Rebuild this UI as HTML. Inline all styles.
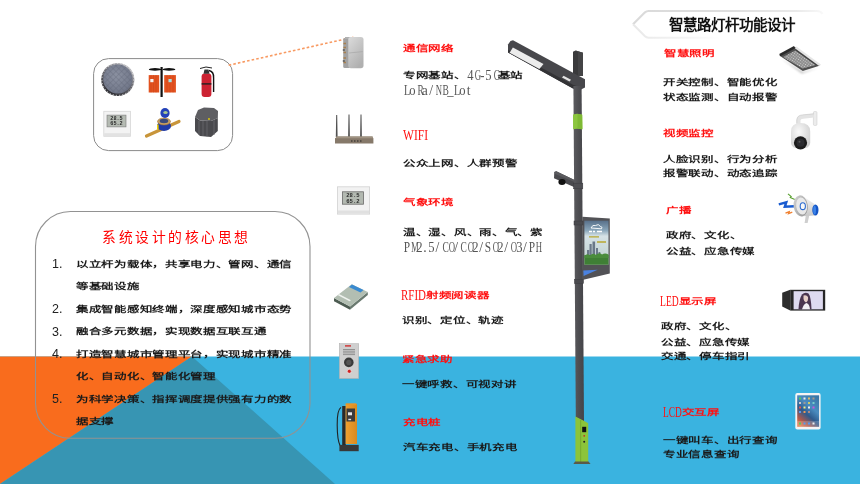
<!DOCTYPE html>
<html lang="zh-CN"><head><meta charset="utf-8"><style>
html,body{margin:0;padding:0;background:#fff;}
body{width:860px;height:484px;position:relative;overflow:hidden;font-family:"Liberation Sans",sans-serif;}
svg.bg{position:absolute;left:0;top:0;will-change:transform;}
.t{will-change:transform;position:absolute;white-space:nowrap;font-size:12.5px;line-height:12.5px;height:12.5px;}
.c{display:inline-block;font-weight:bold;letter-spacing:-0.3px;transform-origin:0 10px;transform:scaleY(0.68);}
.m{display:inline-block;font-family:"Liberation Serif",serif;position:relative;top:1.5px}
.m i{display:inline-block;width:6.25px;text-align:center;font-style:normal;font-size:13.6px;}
.m b{display:inline-block;font-weight:normal;transform-origin:50% 0;}
.n{will-change:transform;position:absolute;font-size:12.5px;line-height:1;color:#222;}
.title{will-change:transform;position:absolute;left:668.5px;top:17.5px;font-size:14.5px;font-weight:bold;line-height:1;color:#111;white-space:nowrap}
.ct{will-change:transform;position:absolute;left:101.5px;top:231.4px;font-size:13.8px;letter-spacing:2.5px;line-height:1;color:#f00;font-weight:normal;white-space:nowrap;font-family:"Liberation Serif",serif;}
</style></head><body>
<svg class="bg" width="860" height="484" viewBox="0 0 860 484">
<defs>
<linearGradient id="bann" gradientUnits="userSpaceOnUse" x1="632" y1="0" x2="826" y2="0">
<stop offset="0" stop-color="#dadada"/><stop offset="0.5" stop-color="#dedede"/><stop offset="0.85" stop-color="#eaeaea"/><stop offset="1" stop-color="#fafafa"/></linearGradient>
<linearGradient id="bannb" gradientUnits="userSpaceOnUse" x1="632" y1="0" x2="720" y2="0">
<stop offset="0" stop-color="#e8e8e8"/><stop offset="0.5" stop-color="#f2f2f2"/><stop offset="1" stop-color="#fff"/></linearGradient>
<radialGradient id="mh" cx="0.45" cy="0.4" r="0.6"><stop offset="0" stop-color="#8c92a2"/><stop offset="1" stop-color="#707688"/></radialGradient>
<linearGradient id="mhr" x1="0.8" y1="0" x2="0.2" y2="1"><stop offset="0" stop-color="#c8c8cc"/><stop offset="0.45" stop-color="#6a6a72"/><stop offset="1" stop-color="#25252a"/></linearGradient>
<pattern id="mhp" width="4" height="4" patternUnits="userSpaceOnUse" patternTransform="rotate(45)"><rect width="4" height="4" fill="none"/><path d="M0 0H4M0 0V4" stroke="#5a6070" stroke-width="0.8"/></pattern>
<linearGradient id="comm" x1="0" y1="0" x2="0.6" y2="1"><stop offset="0" stop-color="#dcdcdc"/><stop offset="1" stop-color="#b0b0b0"/></linearGradient>
<linearGradient id="pole" x1="0" y1="0" x2="1" y2="0"><stop offset="0" stop-color="#5b5b5f"/><stop offset="0.45" stop-color="#4f4f53"/><stop offset="1" stop-color="#444448"/></linearGradient>
<linearGradient id="scr" x1="0" y1="0" x2="0" y2="1"><stop offset="0" stop-color="#58708a"/><stop offset="0.22" stop-color="#8aa6ba"/><stop offset="0.35" stop-color="#d6e2e6"/><stop offset="0.7" stop-color="#c8d8d8"/><stop offset="1" stop-color="#c0d0c8"/></linearGradient>
<linearGradient id="ipad" x1="0.8" y1="0" x2="0.2" y2="1"><stop offset="0" stop-color="#3a78a8"/><stop offset="0.35" stop-color="#4a8cc0"/><stop offset="0.6" stop-color="#2e5a8c"/><stop offset="0.85" stop-color="#b0584a"/><stop offset="1" stop-color="#e07a4a"/></linearGradient>
<radialGradient id="cam" cx="0.4" cy="0.35" r="0.7"><stop offset="0" stop-color="#fafafa"/><stop offset="1" stop-color="#cfcfcf"/></radialGradient>
<linearGradient id="pile" x1="0" y1="0" x2="1" y2="0"><stop offset="0" stop-color="#f0a030"/><stop offset="1" stop-color="#d88a20"/></linearGradient>
<linearGradient id="ledl" x1="0" y1="0" x2="1" y2="1"><stop offset="0" stop-color="#bdbdbd"/><stop offset="1" stop-color="#8a8a8a"/></linearGradient>
<filter id="blur1" x="-20%" y="-50%" width="140%" height="200%"><feGaussianBlur stdDeviation="1.2"/></filter>
<pattern id="dots" width="2.2" height="2.2" patternUnits="userSpaceOnUse" patternTransform="rotate(36)"><circle cx="1.1" cy="1.1" r="0.55" fill="#d8d8d8"/></pattern>
<linearGradient id="megh" x1="0" y1="0" x2="1" y2="1"><stop offset="0" stop-color="#d8d8d8"/><stop offset="1" stop-color="#8e8e8e"/></linearGradient>
<linearGradient id="megb" x1="0" y1="0" x2="0" y2="1"><stop offset="0" stop-color="#f4f4f4"/><stop offset="1" stop-color="#c8c8c8"/></linearGradient>
</defs>
<!-- bottom band -->
<rect x="0" y="356.5" width="860" height="128" fill="#3AB3E0"/>
<polygon points="0,356.5 192,356.5 0,484" fill="#F96C1D"/>
<polygon points="192,356.5 0,484 335,484" fill="#3795B3"/>
<!-- title banner -->
<path d="M633,24.3 L645,12.3 Q646.5,11 648.5,11 L817,11 Q821,11 822.5,14" fill="none" stroke="url(#bann)" stroke-width="2.2" stroke-linejoin="round"/>
<path d="M633,24.3 L645,36.3 Q646.5,37.7 648.5,37.7 L720,37.7" fill="none" stroke="url(#bannb)" stroke-width="2" stroke-linejoin="round"/>
<!-- core ideas box -->
<rect x="35.5" y="211.5" width="274.5" height="226.8" rx="35" ry="35" fill="none" stroke="#929292" stroke-width="1.1"/>
<!-- icon box -->
<rect x="93.6" y="58.6" width="139" height="92" rx="15" ry="15" fill="none" stroke="#8a8a8a" stroke-width="1"/>
<line x1="228.7" y1="65.2" x2="353.4" y2="37.2" stroke="#F89A62" stroke-width="1.6" stroke-dasharray="2.6 2.1"/>
<!-- manhole -->
<circle cx="117.8" cy="79.5" r="16.6" fill="url(#mhr)"/>
<circle cx="117.8" cy="79.5" r="15.9" fill="none" stroke="#f0f0f0" stroke-width="1" stroke-dasharray="1.2 2" opacity="0.8"/>
<circle cx="117.8" cy="79" r="14.6" fill="url(#mh)"/>
<circle cx="117.8" cy="79" r="14.6" fill="url(#mhp)" opacity="0.7"/>
<!-- trash bins -->
<rect x="148.7" y="75.1" width="10.5" height="17.4" fill="#E2521F"/>
<rect x="164.2" y="75.1" width="11.7" height="17.4" fill="#E2521F"/>
<path d="M151,75v17.4M153.5,75v17.4M156,75v17.4M167,75v17.4M170,75v17.4M173,75v17.4" stroke="#c8421a" stroke-width="0.5"/>
<rect x="150.3" y="79" width="3.2" height="3.2" fill="#f4f4f4"/>
<rect x="168.5" y="79" width="3.2" height="3.2" fill="#a8e0e0"/>
<rect x="160.5" y="67" width="2.2" height="30" fill="#111"/>
<ellipse cx="155" cy="69.4" rx="6.2" ry="1.3" fill="#111"/>
<ellipse cx="169" cy="69.4" rx="6.4" ry="1.3" fill="#111"/>
<!-- fire extinguisher -->
<rect x="201.6" y="73.6" width="9.8" height="23.4" rx="3" fill="#CC2232"/>
<rect x="201.6" y="83.2" width="9.8" height="1.4" fill="#222"/>
<path d="M203.5,73.8 L209.5,73.8 L208.5,69.5 L204.5,69.5 Z" fill="#333"/>
<path d="M200,68.5 L206,67 L212,68" stroke="#222" stroke-width="1" fill="none"/>
<path d="M209,70.5 Q214,71.5 213.6,78 L213.6,92" stroke="#111" stroke-width="1.4" fill="none"/>
<!-- thermo box small -->
<rect x="103.8" y="111.3" width="26.7" height="25" fill="#f3f3f3" stroke="#d6d6d6" stroke-width="0.8"/>
<rect x="107" y="115.1" width="19" height="11.8" fill="#b5bbb3" stroke="#7a7a7a" stroke-width="0.6"/>
<text x="116.5" y="120.2" font-family="Liberation Mono" font-size="5.2" font-weight="bold" fill="#2a2a2a" text-anchor="middle">28.5</text><text x="116.5" y="125.2" font-family="Liberation Mono" font-size="5.2" font-weight="bold" fill="#2a2a2a" text-anchor="middle">65.2</text>
<rect x="104.2" y="133.2" width="26" height="2.8" fill="#e2e2e2"/>
<!-- water meter -->
<path d="M146.5,136 L179,121.5" stroke="#C8953A" stroke-width="3.2" stroke-linecap="round"/>
<ellipse cx="164" cy="126" rx="7" ry="5" fill="#1f3aa8"/>
<ellipse cx="164" cy="121.5" rx="6.5" ry="3.5" fill="#c8a060" stroke="#a07030" stroke-width="0.6"/>
<ellipse cx="164" cy="121" rx="4.3" ry="2.2" fill="#3a4a7a"/>
<ellipse cx="165" cy="113" rx="4.6" ry="5" fill="#2442b8"/>
<ellipse cx="165.5" cy="112.5" rx="2.2" ry="1.6" fill="#a8c890"/>
<rect x="157" y="124.5" width="1.6" height="5" fill="#f0d000"/>
<!-- gray sensor box -->
<path d="M195,117 L200,120.5 L211,121 L217.8,118 L217.8,131 L211,137 L200,136 L195,131 Z" fill="#4a4a4e"/>
<polygon points="198,110 204,107.6 214,108 218,111 217.8,118 211,121 200,120.5 195,117" fill="#5e5e62"/>
<path d="M199,121v14M203,121v15M207,121v15.5M214,120v15" stroke="#6a6a6e" stroke-width="0.8"/>
<circle cx="209" cy="119" r="0.9" fill="#e8d000"/>
<!-- comms device -->
<rect x="343.2" y="38" width="7" height="30" rx="1.5" fill="#a2a2a2"/>
<rect x="345" y="37" width="6" height="2" fill="#b0b0b0"/>
<path d="M343.5,43.5h2.5M343.5,47.5h2.5M343.5,52.5h2.5M343.5,58h2.5M343.5,62.5h2.5" stroke="#a88050" stroke-width="1.3"/>
<path d="M342.8,50h2M342.8,61h2" stroke="#555" stroke-width="1.3"/>
<rect x="348.3" y="37" width="15.2" height="31.2" rx="2.6" fill="url(#comm)"/>
<path d="M349,53 L362.8,51.6" stroke="#a6a6a6" stroke-width="0.7"/>
<!-- router -->
<path d="M336.2,115 L337.2,115 L337.6,137 L335.8,137 Z M348.5,114.5 L349.5,114.5 L349.9,137 L348.1,137 Z M360.5,114.5 L361.5,114.5 L361.9,137 L360.1,137 Z" fill="#505050"/>
<polygon points="335,138.3 338,136.5 372,136.5 373.4,138.3 373.4,143.4 335,143.4" fill="#86796a"/>
<rect x="336" y="136.5" width="37" height="1.8" fill="#a09382"/>
<path d="M351,141h1.5M354,141h1.5M357,141h1.5M360,141h1.5" stroke="#222" stroke-width="1"/>
<!-- thermo box mid -->
<rect x="337.4" y="186.8" width="32.2" height="27.3" fill="#f2f2f2" stroke="#d2d2d2" stroke-width="0.8"/>
<rect x="342.4" y="191.8" width="21" height="12.4" fill="#b3b9b1" stroke="#6a6a6a" stroke-width="0.8"/>
<text x="352.9" y="197.3" font-family="Liberation Mono" font-size="5.6" font-weight="bold" fill="#2a2a2a" text-anchor="middle">28.5</text><text x="352.9" y="202.6" font-family="Liberation Mono" font-size="5.6" font-weight="bold" fill="#2a2a2a" text-anchor="middle">65.2</text>
<rect x="337.8" y="210.5" width="31.4" height="3.2" fill="#e0e0e0"/>
<!-- RFID reader -->
<polygon points="334,298 350,306.5 350,309.8 334,301.2" fill="#4d5c52"/>
<polygon points="350,306.5 367.8,292 367.8,295 350,309.8" fill="#6a7a70"/>
<polygon points="334,298 351.7,284.2 367.8,292 350,306.5" fill="#b2beb2"/>
<polygon points="349,287 352,284.6 363.5,290 360.5,292.5" fill="#3a8ad0"/>
<polygon points="337.5,295 339,294 351,300.3 349.5,301.3" fill="#eef2ee"/>
<!-- emergency panel -->
<rect x="339.3" y="343.7" width="19.4" height="34.9" fill="#cfcfcf" stroke="#aaa" stroke-width="0.5"/>
<rect x="345" y="345.2" width="6" height="1.4" fill="#d03030"/>
<path d="M343,349.5h12M343,351.2h12M343,352.9h12M343,354.6h12" stroke="#8a8a8a" stroke-width="0.9"/>
<circle cx="348.8" cy="362.4" r="4.8" fill="#3a3a3a"/>
<circle cx="348.8" cy="362.4" r="2.6" fill="#555"/>
<circle cx="349.3" cy="371.3" r="2" fill="#d02020" stroke="#f0f0f0" stroke-width="0.6"/>
<!-- charging pile -->
<path d="M341,407.4 Q337,410 337.2,425 Q337.3,440 340,445.5" stroke="#222" stroke-width="1.1" fill="none"/>
<rect x="342.2" y="406" width="3.6" height="39" fill="#2a2a2a"/>
<rect x="345.6" y="404" width="11.4" height="40" fill="url(#pile)"/>
<rect x="346.5" y="408.5" width="8.5" height="13" fill="#3a3a3a"/>
<rect x="348" y="412.3" width="4" height="3" fill="#e8e8e8"/>
<rect x="348.3" y="418.8" width="2.8" height="1.4" fill="#e0e0e0"/>
<rect x="339.4" y="444.9" width="19.3" height="6.3" fill="#383838"/>
<rect x="345.8" y="403.3" width="10.5" height="1.6" fill="#e8962a"/>
<!-- STREET LAMP -->
<polygon points="573,51.8 575.5,50.6 583,52.8 583,76 573,76" fill="#3a3a3c"/>
<polygon points="575.5,50.6 583,52.8 583,76 578,76 578,52.5" fill="#444446"/>
<polygon points="508,44.5 510.5,41 513,40.3 585,79.2 585,87.5 580.5,89.7 573,88.6 508,52.5" fill="#47474b"/>
<polygon points="508,49.8 573,84.8 580.5,87.5 580.5,89.7 573,88.6 508,52.5" fill="#333336"/>
<polygon points="512.9,47.4 543.5,63.9 539.4,68.9 509.6,52.8" fill="#ececec"/>
<polygon points="563.5,75.8 571,79.8 569.5,81.6 562,77.6" fill="#e4e4e4"/>
<polygon points="573.4,86 581.6,86 584,421.5 575.8,417.2" fill="url(#pole)"/>
<polygon points="573,114.5 577,113.7 582.2,114.8 582.4,129.3 577,128.8 573.1,129.3" fill="#8CC63F"/>
<polygon points="577.5,113.8 582.2,114.8 582.4,129.3 577.5,128.8" fill="#7fba34"/>
<polygon points="554.3,172 556.3,171.3 574.5,180 574.5,187.2 554,178.3" fill="#4a4a4e"/>
<polygon points="554.3,172 556.3,171.3 574.5,180 574.5,182 555,174" fill="#5a5a5e"/>
<ellipse cx="562" cy="182" rx="3.6" ry="3" fill="#111"/>
<rect x="573.6" y="183.2" width="9.2" height="5.6" fill="#4e4e52" stroke="#3c3c40" stroke-width="0.5"/>
<polygon points="582.3,216.7 609.8,218.6 609.8,273.4 582.3,279.9" fill="#525256"/>
<rect x="574" y="221" width="9" height="4" fill="#4a4a4e" stroke="#3c3c40" stroke-width="0.5"/>
<rect x="574.5" y="279.5" width="9" height="4" fill="#4a4a4e" stroke="#3c3c40" stroke-width="0.5"/>
<rect x="584.4" y="220.7" width="24.1" height="44" fill="url(#scr)"/>
<path d="M591,228 Q592.5,224.3 595.5,225.5 Q598.5,223.2 600.5,226.5 Q603,227 601.5,228.8 Z" fill="none" stroke="#fff" stroke-width="0.9"/>
<path d="M589,231.5h3M593,231.5h2M597,231.5h5" stroke="#fff" stroke-width="1.3"/>
<path d="M589,236.8h10M597,242h9" stroke="#b8a830" stroke-width="1.3"/>
<path d="M587,258 V250 h2.2 V258 M589.5,258 V244 h2.2 V258 M592.5,258 V241.5 h2.6 V258 M596,258 V248 h2 V258 M598.5,258 V252 h1.8 V258" fill="#6a7888"/>
<rect x="584.4" y="255" width="24.1" height="9.7" fill="#3f7f35"/>
<path d="M584.4,256 Q587,253 590,255.5 Q593,252.5 596,255 Q599,252 602,254.5 Q605,252.5 608.5,254.5 V258 H584.4 Z" fill="#4a8c3c"/>
<polygon points="583.3,270.4 597.6,269.8 583.6,276" fill="#4a82e0"/>
<polygon points="575.4,416.6 585.2,421.4 588.2,423.2 588.2,462.8 575.4,462.8" fill="#8CC43A"/>
<rect x="580" y="420" width="1.2" height="42.8" fill="#7aae30"/>
<rect x="582.2" y="426.8" width="4" height="5.4" fill="#111"/>
<circle cx="584.2" cy="435.8" r="0.9" fill="#c03020"/>
<circle cx="584.2" cy="441.8" r="1" fill="#222"/>
<polygon points="575,461.6 588.5,461.6 590.6,464 573.4,464" fill="#5a5a48"/>
<!-- LED lamp -->
<polygon points="781,58.5 802,73.5 818,68 803,72" fill="#666" opacity="0.45" filter="url(#blur1)"/>
<polygon points="779.3,55.4 794.8,46.8 820.2,65.4 802.8,70.9" fill="#4e4e4e"/>
<polygon points="783.2,56.9 795.4,50.4 815.8,65 802.5,68.6" fill="#8e8e8e"/>
<polygon points="783.2,56.9 795.4,50.4 815.8,65 802.5,68.6" fill="url(#dots)"/>
<path d="M779.8,55.2 L794.6,47.2" stroke="#2a2a2a" stroke-width="2.6"/>
<path d="M795.6,47.4 L820.2,65.4" stroke="#e6e6e6" stroke-width="2.4"/>
<path d="M795.6,50 L816.4,65" stroke="#3a3a3a" stroke-width="0.7"/>
<!-- PTZ camera -->
<rect x="813.4" y="111.5" width="3.6" height="14" rx="1.2" fill="#ececec" stroke="#c8c8c8" stroke-width="0.5"/>
<path d="M798.5,124 L798.5,120 Q799,117 803,116.8 L814,115.6" stroke="#e4e4e4" stroke-width="4" fill="none"/>
<path d="M796.8,123.5 L796.8,120 Q797.2,115.2 802.5,114.9 L814,113.8" stroke="#c8c8c8" stroke-width="0.6" fill="none"/>
<path d="M791,143 L791,131.5 Q791,123 800.6,123 Q810.2,123 810.2,131.5 L810.2,143 Q810.2,148.5 800.6,148.5 Q791,148.5 791,143 Z" fill="url(#cam)"/>
<circle cx="800.5" cy="142.8" r="6.6" fill="#1c1c1c"/>
<circle cx="800.5" cy="142.8" r="4" fill="#2c2c30"/>
<circle cx="799.5" cy="141.8" r="1" fill="#555"/>
<!-- megaphone -->
<path d="M778.8,204.3 L786.3,202.3 L784.8,206.8 L794.5,206.2" stroke="#1a5cd0" stroke-width="2.4" fill="none" stroke-linejoin="miter"/>
<path d="M788,193.8 L791.2,196.6 L790.3,197.6 L794.8,199.4" stroke="#5aa030" stroke-width="1.1" fill="none"/>
<path d="M785.5,213.2 L789.2,211.8 L788.6,213.6 L792.3,212.2" stroke="#f08030" stroke-width="1.4" fill="none"/>
<path d="M806.2,213 L804.6,223 L807.6,223 L809.6,214 Z" fill="#cfcfcf"/>
<polygon points="802,195.8 814.5,204 814.5,215.5 802,216.2" fill="url(#megb)"/>
<ellipse cx="815.4" cy="210" rx="3.1" ry="5.6" fill="#1454c4"/>
<ellipse cx="814.6" cy="210" rx="1.4" ry="4.6" fill="#3a82e8"/>
<ellipse cx="800.7" cy="205.9" rx="7.1" ry="10.6" fill="url(#megh)" transform="rotate(-8 800.7 205.9)"/>
<ellipse cx="801.6" cy="206" rx="5.4" ry="8.6" fill="#e9e9e9" transform="rotate(-8 801.6 206)"/>
<ellipse cx="802.8" cy="206.2" rx="2.6" ry="3.4" fill="#f8f8f8" stroke="#2a6ad0" stroke-width="1.1"/>
<!-- LED display -->
<polygon points="782.2,292.8 790.2,289.8 790.2,310.6 782.2,306.4" fill="#2c2c2c"/>
<rect x="790.2" y="289.8" width="35" height="20.8" fill="#262626"/>
<rect x="793.6" y="291.2" width="29.3" height="18.1" fill="#dedaf0"/>
<path d="M798.5,309.3 Q799,299 802,294.5 Q805,291.5 808.5,293.5 Q811,296.5 811.5,309.3 Z" fill="#4a3550"/>
<path d="M803.5,295.5 Q806.5,294.5 808,297 Q808.5,301 806,302.5 Q803.8,301.5 803.5,299 Z" fill="#e6cec8"/>
<path d="M802,309.3 Q803.5,304 806.5,303 Q809.5,304 810,309.3 Z" fill="#f2f0f6"/>
<!-- iPad -->
<rect x="795.3" y="393.1" width="25.3" height="36.3" rx="2" fill="#f4f4f4"/>
<rect x="797.2" y="395.3" width="21.9" height="31.5" fill="url(#ipad)"/>
<rect x="797.2" y="421" width="21.9" height="5.8" fill="#fff" opacity="0.18"/>
<g fill="#9ad">
<rect x="799" y="397.5" width="2" height="2" fill="#5c5"/><rect x="803.5" y="397.5" width="2" height="2" fill="#eee"/><rect x="808" y="397.5" width="2" height="2" fill="#db6"/><rect x="812.5" y="397.5" width="2" height="2" fill="#a98"/>
<rect x="799" y="402" width="2" height="2" fill="#ccc"/><rect x="803.5" y="402" width="2" height="2" fill="#999"/><rect x="808" y="402" width="2" height="2" fill="#cc6"/><rect x="812.5" y="402" width="2" height="2" fill="#7cc"/>
<rect x="799" y="406.5" width="2" height="2" fill="#d55"/><rect x="803.5" y="406.5" width="2" height="2" fill="#ee8"/><rect x="808" y="406.5" width="2" height="2" fill="#eee"/><rect x="812.5" y="406.5" width="2" height="2" fill="#c5d"/>
<rect x="799" y="411" width="2" height="2" fill="#59e"/><rect x="803.5" y="411" width="2" height="2" fill="#e95"/><rect x="808" y="411" width="2" height="2" fill="#a88"/>
<rect x="799" y="422.5" width="2" height="2" fill="#5c5"/><rect x="803.5" y="422.5" width="2" height="2" fill="#59e"/><rect x="808" y="422.5" width="2" height="2" fill="#59e"/><rect x="812.5" y="422.5" width="2" height="2" fill="#eee"/>
</g>

</svg>

<div class="title">智慧路灯杆功能设计</div>
<div class="ct">系统设计的核心思想</div>
<div class="t" style="left:403.0px;top:40.7px;color:#FF1010"><span class="c">通信网络</span></div>
<div class="t" style="left:402.5px;top:68.3px;color:#1a1a1a"><span class="c">专网基站、</span><span class="m" style="color:#555"><i><b style="transform:scaleX(0.926)">4</b></i><i><b style="transform:scaleX(0.641)">G</b></i><i><b>-</b></i><i><b style="transform:scaleX(0.926)">5</b></i><i><b style="transform:scaleX(0.641)">G</b></i></span><span class="c">基站</span></div>
<div class="t" style="left:402.5px;top:83.4px;color:#1a1a1a"><span class="m" style="color:#555"><i><b style="transform:scaleX(0.758)">L</b></i><i><b style="transform:scaleX(0.926)">o</b></i><i><b style="transform:scaleX(0.695)">R</b></i><i><b>a</b></i><i><b>/</b></i><i><b style="transform:scaleX(0.641)">N</b></i><i><b style="transform:scaleX(0.695)">B</b></i><i><b style="transform:scaleX(0.926)">_</b></i><i><b style="transform:scaleX(0.758)">L</b></i><i><b style="transform:scaleX(0.926)">o</b></i><i><b>t</b></i></span></div>
<div class="t" style="left:403.0px;top:128.0px;color:#FF1010"><span class="m" style="width:25.00px;color:#FF1010"><i style="width:auto"><b style="transform:scaleX(0.849);transform-origin:0 0">WIFI</b></i></span></div>
<div class="t" style="left:402.5px;top:156.0px;color:#1a1a1a"><span class="c">公众上网、人群预警</span></div>
<div class="t" style="left:402.5px;top:195.4px;color:#FF1010"><span class="c">气象环境</span></div>
<div class="t" style="left:402.5px;top:225.1px;color:#1a1a1a"><span class="c">温、湿、风、雨、气、紫</span></div>
<div class="t" style="left:402.5px;top:239.5px;color:#1a1a1a"><span class="m" style="color:#555"><i><b style="transform:scaleX(0.833)">P</b></i><i><b style="transform:scaleX(0.612)">M</b></i><i><b style="transform:scaleX(0.926)">2</b></i><i><b>.</b></i><i><b style="transform:scaleX(0.926)">5</b></i><i><b>/</b></i><i><b style="transform:scaleX(0.695)">C</b></i><i><b style="transform:scaleX(0.641)">O</b></i><i><b>/</b></i><i><b style="transform:scaleX(0.695)">C</b></i><i><b style="transform:scaleX(0.641)">O</b></i><i><b style="transform:scaleX(0.926)">2</b></i><i><b>/</b></i><i><b style="transform:scaleX(0.833)">S</b></i><i><b style="transform:scaleX(0.641)">O</b></i><i><b style="transform:scaleX(0.926)">2</b></i><i><b>/</b></i><i><b style="transform:scaleX(0.641)">O</b></i><i><b style="transform:scaleX(0.926)">3</b></i><i><b>/</b></i><i><b style="transform:scaleX(0.833)">P</b></i><i><b style="transform:scaleX(0.641)">H</b></i></span></div>
<div class="t" style="left:401.0px;top:287.5px;color:#FF1010"><span class="m" style="width:25.00px;color:#FF1010"><i style="width:auto"><b style="transform:scaleX(0.807);transform-origin:0 0">RFID</b></i></span><span class="c">射频阅读器</span></div>
<div class="t" style="left:401.5px;top:313.3px;color:#1a1a1a"><span class="c">识别、定位、轨迹</span></div>
<div class="t" style="left:402.0px;top:351.5px;color:#FF1010"><span class="c">紧急求助</span></div>
<div class="t" style="left:402.0px;top:377.2px;color:#1a1a1a"><span class="c">一键呼救、可视对讲</span></div>
<div class="t" style="left:403.0px;top:414.7px;color:#FF1010"><span class="c">充电桩</span></div>
<div class="t" style="left:403.0px;top:440.2px;color:#1a1a1a"><span class="c">汽车充电、手机充电</span></div>
<div class="t" style="left:664.0px;top:46.4px;color:#FF1010"><span class="c">智慧照明</span></div>
<div class="t" style="left:663.0px;top:75.3px;color:#1a1a1a"><span class="c">开关控制、智能优化</span></div>
<div class="t" style="left:663.0px;top:89.9px;color:#1a1a1a"><span class="c">状态监测、自动报警</span></div>
<div class="t" style="left:663.0px;top:126.0px;color:#FF1010"><span class="c">视频监控</span></div>
<div class="t" style="left:663.0px;top:151.5px;color:#1a1a1a"><span class="c">人脸识别、行为分析</span></div>
<div class="t" style="left:663.0px;top:165.8px;color:#1a1a1a"><span class="c">报警联动、动态追踪</span></div>
<div class="t" style="left:665.7px;top:202.6px;color:#FF1010"><span class="c">广播</span></div>
<div class="t" style="left:665.7px;top:228.1px;color:#1a1a1a"><span class="c">政府、文化、</span></div>
<div class="t" style="left:665.7px;top:243.8px;color:#1a1a1a"><span class="c">公益、应急传媒</span></div>
<div class="t" style="left:660.2px;top:293.5px;color:#FF1010"><span class="m" style="width:18.75px;color:#FF1010"><i style="width:auto"><b style="transform:scaleX(0.709);transform-origin:0 0">LED</b></i></span><span class="c">显示屏</span></div>
<div class="t" style="left:660.6px;top:319.2px;color:#1a1a1a"><span class="c">政府、文化、</span></div>
<div class="t" style="left:660.6px;top:334.6px;color:#1a1a1a"><span class="c">公益、应急传媒</span></div>
<div class="t" style="left:660.6px;top:349.4px;color:#1a1a1a"><span class="c">交通、停车指引</span></div>
<div class="t" style="left:662.6px;top:404.5px;color:#FF1010"><span class="m" style="width:18.75px;color:#FF1010"><i style="width:auto"><b style="transform:scaleX(0.689);transform-origin:0 0">LCD</b></i></span><span class="c">交互屏</span></div>
<div class="t" style="left:662.6px;top:432.5px;color:#1a1a1a"><span class="c">一键叫车、出行查询</span></div>
<div class="t" style="left:662.6px;top:446.8px;color:#1a1a1a"><span class="c">专业信息查询</span></div>
<div class="t" style="left:76.2px;top:256.5px;color:#1a1a1a"><span class="c">以立杆为载体，共享电力、管网、通信</span></div>
<div class="t" style="left:76.2px;top:279.0px;color:#1a1a1a"><span class="c">等基础设施</span></div>
<div class="t" style="left:76.2px;top:301.5px;color:#1a1a1a"><span class="c">集成智能感知终端，深度感知城市态势</span></div>
<div class="t" style="left:76.2px;top:324.3px;color:#1a1a1a"><span class="c">融合多元数据，实现数据互联互通</span></div>
<div class="t" style="left:76.2px;top:346.8px;color:#1a1a1a"><span class="c">打造智慧城市管理平台，实现城市精准</span></div>
<div class="t" style="left:76.2px;top:369.2px;color:#1a1a1a"><span class="c">化、自动化、智能化管理</span></div>
<div class="t" style="left:76.2px;top:391.6px;color:#1a1a1a"><span class="c">为科学决策、指挥调度提供强有力的数</span></div>
<div class="t" style="left:76.2px;top:414.0px;color:#1a1a1a"><span class="c">据支撑</span></div>
<div class="n" style="left:52.0px;top:257.6px">1.</div>
<div class="n" style="left:52.0px;top:303.1px">2.</div>
<div class="n" style="left:52.0px;top:326.2px">3.</div>
<div class="n" style="left:52.0px;top:348.4px">4.</div>
<div class="n" style="left:52.0px;top:393.0px">5.</div>
</body></html>
